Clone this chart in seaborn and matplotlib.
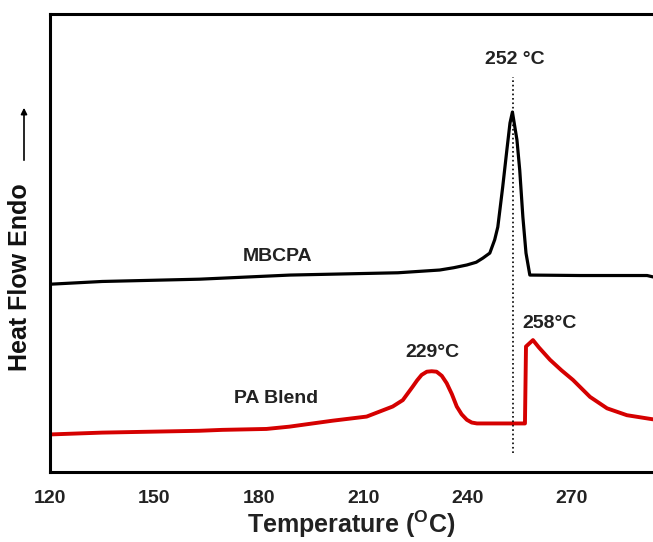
import numpy as np
import matplotlib
matplotlib.use('Agg')
import matplotlib.pyplot as plt
import seaborn as sns
import pandas as pd
from matplotlib.ticker import MultipleLocator

# DSC curves (temperature in C, heat flow in arbitrary units)
mbcpa_T = [120, 135, 163, 189, 220, 232, 236, 239.8, 242.5, 244.4, 246.4, 247.8, 248.7,
           250.1, 251.3, 252.2, 252.9, 254.2, 255.0, 255.9, 256.8, 257.9, 272.3, 291.6, 293.3]
mbcpa_hf = [41.0, 41.6, 42.1, 43.0, 43.5, 44.1, 44.6, 45.2, 45.8, 46.7, 47.8, 50.7, 53.5,
            62.2, 70.3, 76.2, 78.6, 72.5, 65.9, 55.7, 47.8, 43.0, 42.9, 42.9, 42.6]

blend_T = [120, 135, 162.9, 169.5, 182.2, 188.8, 201.2, 211.0, 218.5, 221.4, 224.2, 225.5,
           226.8, 228.3, 229.7, 231.1, 232.6, 234.0, 235.5, 236.9, 238.3, 239.8, 241.2, 242.7,
           255.9, 256.5, 256.8, 258.8, 260.5, 263.7, 267.0, 270.3, 275.2, 280.1, 285.8, 293.3]
blend_hf = [8.2, 8.6, 9.0, 9.2, 9.4, 9.9, 11.2, 12.1, 14.3, 15.7, 18.6, 20.0,
            21.2, 21.9, 22.0, 21.9, 21.0, 19.4, 17.0, 14.3, 12.6, 11.4, 10.8, 10.6,
            10.6, 10.6, 27.4, 28.8, 27.2, 24.5, 22.2, 20.1, 16.4, 13.9, 12.4, 11.5]

peak_T = 253.0

df = pd.concat([
    pd.DataFrame({'T': mbcpa_T, 'hf': mbcpa_hf, 'sample': 'MBCPA'}),
    pd.DataFrame({'T': blend_T, 'hf': blend_hf, 'sample': 'PA Blend'}),
])

sns.set_style('white')
plt.rcParams['font.family'] = ['Liberation Sans', 'DejaVu Sans']
plt.rcParams['mathtext.fontset'] = 'custom'
plt.rcParams['mathtext.rm'] = 'Liberation Sans'
plt.rcParams['mathtext.bf'] = 'Liberation Sans:bold'

fig = plt.figure(figsize=(6.53, 5.42), dpi=100)
ax = fig.add_axes([50/653, 70/542, 1 - 50/653, 458/542])

sns.lineplot(data=df, x='T', y='hf', hue='sample',
             palette={'MBCPA': 'black', 'PA Blend': '#d50000'},
             linewidth=2.3, legend=False, ax=ax, sort=False, estimator=None)
ax.lines[1].set_linewidth(2.8)

# dotted marker through the MBCPA melting peak
ax.vlines(peak_T, 4.1, 86.2, colors='black', linestyles=':', linewidth=1.2)

ax.set_xlim(120, 293.3)
ax.set_ylim(0, 100)
ax.xaxis.set_major_locator(MultipleLocator(30))
ax.xaxis.set_minor_locator(MultipleLocator(15))
ax.set_yticks([])
ax.tick_params(axis='x', which='major', direction='out', length=6, width=2,
               labelsize=14, pad=7)
ax.tick_params(axis='x', which='minor', direction='out', length=3.5, width=2)
for lab in ax.get_xticklabels():
    lab.set_fontweight('bold')
    lab.set_color('#222222')

for s in ['left', 'top', 'bottom']:
    ax.spines[s].set_linewidth(2.2)
    ax.spines[s].set_color('black')
ax.spines['right'].set_visible(False)

ax.set_xlabel(r'Temperature ($^{\mathbf{O}}$C)', fontsize=18, fontweight='bold',
              labelpad=1, color='#222222')
ax.set_ylabel('Heat Flow Endo', fontsize=18, fontweight='bold', color='#111111')
ax.yaxis.set_label_coords(-0.03, 0.425)

# arrow next to y label
ax.annotate('', xy=(24/653, 437/542), xytext=(24/653, 379/542),
            xycoords='figure fraction', textcoords='figure fraction',
            arrowprops=dict(arrowstyle='-|>', color='black', lw=1.2,
                            mutation_scale=9))

tc = '#222222'
ax.text(185.4, 47.0, 'MBCPA', fontsize=14, fontweight='bold', color=tc,
        ha='center', va='center')
ax.text(185.1, 16.0, 'PA Blend', fontsize=14, fontweight='bold', color=tc,
        ha='center', va='center')
ax.text(230.0, 26.0, '229°C', fontsize=14, fontweight='bold', color=tc,
        ha='center', va='center')
ax.text(263.7, 32.5, '258°C', fontsize=14, fontweight='bold', color=tc,
        ha='center', va='center')
ax.text(253.6, 90.0, '252 °C', fontsize=14, fontweight='bold', color=tc,
        ha='center', va='center')

fig.savefig('out.png', dpi=100)
